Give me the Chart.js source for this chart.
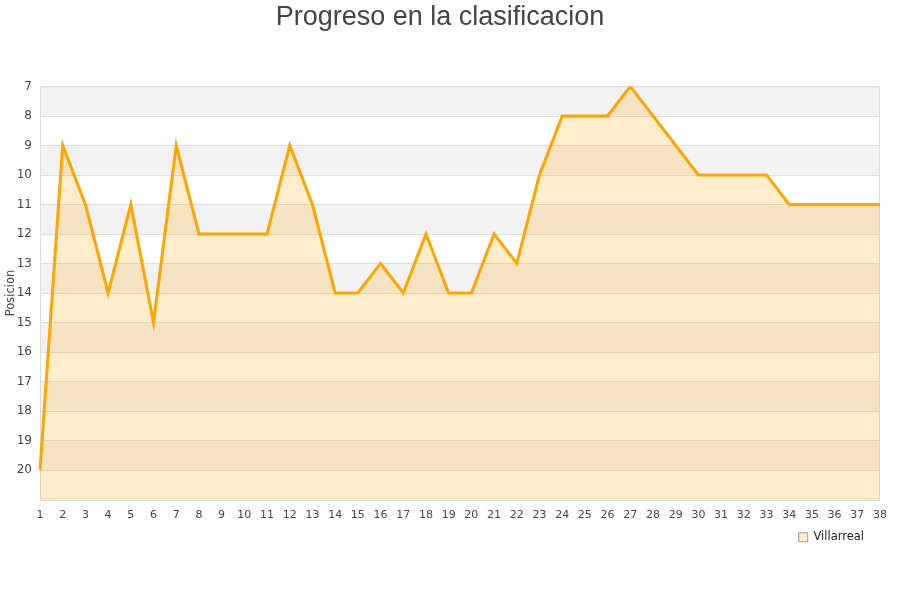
<!DOCTYPE html>
<html>
<head>
<meta charset="utf-8">
<script src="https://cdn.jsdelivr.net/npm/chart.js@4"></script>
<style>
html,body{margin:0;padding:0;background:#fff;}
#wrap{width:900px;height:600px;}
</style>
</head>
<body>
<div id="wrap"><canvas id="c" width="900" height="600"></canvas></div>
<script>
const jornadas = [1,2,3,4,5,6,7,8,9,10,11,12,13,14,15,16,17,18,19,20,21,22,23,24,25,26,27,28,29,30,31,32,33,34,35,36,37,38];
const villarreal = [20,9,11,14,11,15,9,12,12,12,12,9,11,14,14,13,14,12,14,14,12,13,10,8,8,8,7,8,9,10,10,10,10,11,11,11,11,11];
const yTicks = [7,8,9,10,11,12,13,14,15,16,17,18,19,20];

const bands = {
  id: 'bands',
  afterLayout(chart) {
    if (chart.legend) { chart.legend.left -= 8; chart.legend.right -= 8; }
  },
  beforeDatasetsDraw(chart) {
    const {ctx, chartArea: a, scales: {y}} = chart;
    ctx.save();
    for (let v = 7; v < 21; v++) {
      if ((v - 7) % 2 === 0) {
        const y1 = y.getPixelForValue(v), y2 = y.getPixelForValue(v + 1);
        ctx.fillStyle = '#f2f2f2';
        ctx.fillRect(a.left, Math.min(y1, y2), a.right - a.left, Math.abs(y2 - y1));
      }
    }
    ctx.strokeStyle = '#dddddd';
    ctx.lineWidth = 1;
    for (let v = 7; v <= 21; v++) {
      const yy = Math.round(y.getPixelForValue(v)) + 0.5;
      ctx.beginPath(); ctx.moveTo(a.left, yy); ctx.lineTo(a.right, yy); ctx.stroke();
    }
    ctx.strokeRect(a.left + 0.5, a.top + 0.5, a.right - a.left - 1, a.bottom - a.top - 1);
    ctx.restore();
  }
};

new Chart(document.getElementById('c'), {
  type: 'line',
  data: {
    labels: jornadas,
    datasets: [{
      label: 'Villarreal',
      data: villarreal,
      borderColor: '#ffa500',
      backgroundColor: 'rgba(255,165,0,0.2)',
      borderWidth: 3,
      pointRadius: 0,
      tension: 0,
      fill: {value: 21}
    }]
  },
  options: {
    responsive: false,
    animation: false,
    layout: {padding: {left: 0, right: 20, top: 0, bottom: 47}},
    plugins: {
      title: {
        display: true,
        text: 'Progreso en la clasificacion',
        color: '#444444',
        font: {family: 'Liberation Sans, Arial, sans-serif', size: 27, weight: 'normal'},
        padding: {top: 1, bottom: 53}
      },
      legend: {
        position: 'bottom',
        align: 'end',
        labels: {
          boxWidth: 9, boxHeight: 9,
          color: '#222',
          font: {family: 'DejaVu Sans, sans-serif', size: 11.5},
          padding: 8,
          generateLabels(chart) {
            return chart.data.datasets.map((ds, i) => ({
              text: ds.label,
              fillStyle: 'rgba(255,165,0,0.2)',
              strokeStyle: '#999999',
              lineWidth: 1,
              fontColor: '#222',
              hidden: false,
              datasetIndex: i
            }));
          }
        }
      },
      tooltip: {enabled: false}
    },
    scales: {
      x: {
        grid: {display: false},
        border: {display: false},
        ticks: {
          color: '#444',
          font: {family: 'DejaVu Sans, sans-serif', size: 11},
          maxRotation: 0, autoSkip: false, padding: 1
        },
        afterFit(s) { s.height = 24; }
      },
      y: {
        reverse: true,
        min: 7, max: 21,
        grid: {display: false},
        border: {display: false},
        afterBuildTicks(s) { s.ticks = yTicks.map(v => ({value: v})); },
        ticks: {
          color: '#444',
          font: {family: 'DejaVu Sans, sans-serif', size: 12},
          padding: 0
        },
        title: {
          display: true,
          text: 'Posicion',
          color: '#444',
          font: {family: 'DejaVu Sans, sans-serif', size: 11.5},
          padding: {top: 4, bottom: 0}
        },
        afterFit(s) { s.width = 40; }
      }
    }
  },
  plugins: [bands]
});
</script>
</body>
</html>
